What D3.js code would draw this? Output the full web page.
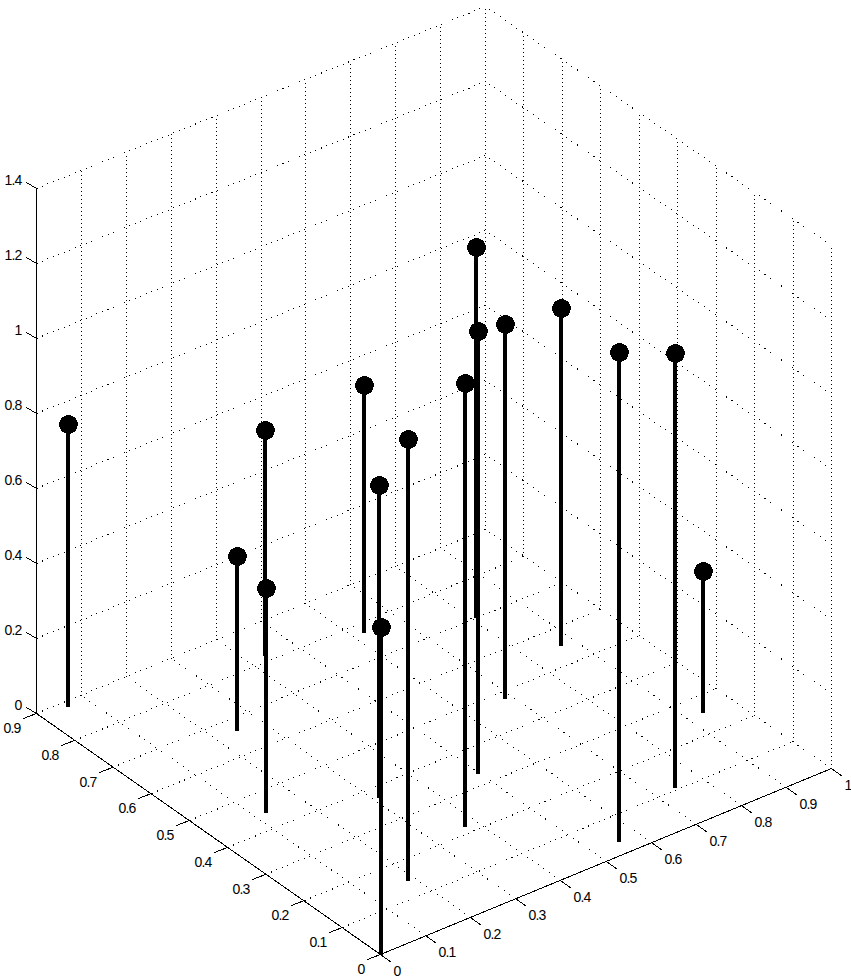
<!DOCTYPE html>
<html>
<head>
<meta charset="utf-8">
<script src="https://cdn.jsdelivr.net/npm/d3@7"></script>
<style>
  html, body { margin: 0; padding: 0; background: #fff; }
  text { font-family: "Liberation Sans", Arial, sans-serif; font-size: 14px; letter-spacing: -0.8px; fill: #000; }
</style>
</head>
<body>
<div id="chart"></div>
<script>
// stem data
const xValues = [0.057, 0.246, 0.436, 0.122, 0.621, 0.311, 0.000, 0.185, 0.372, 0.808, 0.497, 0.685, 0.870, 0.557, 0.744, 0.933];
const yValues = [0.886, 0.667, 0.816, 0.445, 0.774, 0.371, 0.000, 0.148, 0.220, 0.701, 0.331, 0.482, 0.553, 0.035, 0.108, 0.258];
const zValues = [0.752, 0.464, 0.601, 0.597, 0.661, 0.833, 0.872, 1.177, 1.183, 0.990, 1.181, 1.000, 0.902, 1.307, 1.160, 0.377];

const xTicks = [0, 0.1, 0.2, 0.3, 0.4, 0.5, 0.6, 0.7, 0.8, 0.9, 1];
const yTicks = [0, 0.1, 0.2, 0.3, 0.4, 0.5, 0.6, 0.7, 0.8, 0.9];
const zTicks = [0, 0.2, 0.4, 0.6, 0.8, 1, 1.2, 1.4];

const width = 851;
const height = 979;

const xMax = 1;
const yMax = 0.9;
const zMax = 1.4;

// view projection: each data axis adds its own screen offset
const xToSx = d3.scaleLinear().domain([0, xMax]).range([0, 451]);
const xToSy = d3.scaleLinear().domain([0, xMax]).range([0, -186]);
const yToSx = d3.scaleLinear().domain([0, yMax]).range([0, -344]);
const yToSy = d3.scaleLinear().domain([0, yMax]).range([0, -241]);
const zToSy = d3.scaleLinear().domain([0, zMax]).range([0, -525]);

// the far corner sits a little off the parallelogram, the view has slight perspective
const farSkew = (x, y) => 2 * (x / xMax) * (y / yMax);
const zShrink = x => 1 - (2 / 525) * (x / xMax);

const origin = { x: 380, y: 954 };
const px = (x, y) => Math.round(origin.x + xToSx(x) + yToSx(y) - farSkew(x, y)) + 0.5;
const py = (x, y, z) => Math.round(origin.y + xToSy(x) + yToSy(y) + farSkew(x, y) + zToSy(z) * zShrink(x)) + 0.5;

const svg = d3.select('#chart')
  .append('svg')
  .attr('width', width)
  .attr('height', height)
  .style('display', 'block');

const seg = (g, a, b) => g.append('line')
  .attr('x1', px(a[0], a[1]))
  .attr('y1', py(a[0], a[1], a[2]))
  .attr('x2', px(b[0], b[1]))
  .attr('y2', py(b[0], b[1], b[2]));

// dotted grid on the floor and the two back walls
const grid = svg.append('g')
  .attr('stroke', '#000')
  .attr('stroke-width', 1)
  .attr('shape-rendering', 'crispEdges');

const vertDots = '1 3';
const xDots = '1 4.9';
const yDots = '1 5.7';

xTicks.forEach((t) => {
  if (t > 0) seg(grid, [t, 0, 0], [t, yMax, 0]).attr('stroke-dasharray', yDots);
  seg(grid, [t, yMax, 0], [t, yMax, zMax]).attr('stroke-dasharray', vertDots);
});
yTicks.forEach((t) => {
  if (t > 0) seg(grid, [0, t, 0], [xMax, t, 0]).attr('stroke-dasharray', xDots);
  seg(grid, [xMax, t, 0], [xMax, t, zMax]).attr('stroke-dasharray', vertDots);
});
zTicks.forEach((t) => {
  seg(grid, [0, yMax, t], [xMax, yMax, t]).attr('stroke-dasharray', xDots);
  seg(grid, [xMax, 0, t], [xMax, yMax, t]).attr('stroke-dasharray', yDots);
});

// solid axes
const axes = svg.append('g')
  .attr('stroke', '#000')
  .attr('stroke-width', 1)
  .attr('shape-rendering', 'crispEdges');

seg(axes, [0, 0, 0], [xMax, 0, 0]);
seg(axes, [0, 0, 0], [0, yMax, 0]);
seg(axes, [0, yMax, 0], [0, yMax, zMax]);

const tickLine = (sx, sy, dx, dy) => axes.append('line')
  .attr('x1', sx).attr('y1', sy)
  .attr('x2', sx + dx).attr('y2', sy + dy);

const labels = svg.append('g');

xTicks.forEach((t) => {
  const sx = px(t, 0);
  const sy = py(t, 0, 0);
  tickLine(sx, sy, 11, 8);
  labels.append('text')
    .attr('x', sx + 13).attr('y', sy + 21.5)
    .text(t);
});

yTicks.forEach((t) => {
  const sx = px(0, t);
  const sy = py(0, t, 0);
  tickLine(sx, sy, -13, 5);
  labels.append('text')
    .attr('x', sx - 16).attr('y', sy + 19)
    .attr('text-anchor', 'end')
    .text(t);
});

zTicks.forEach((t) => {
  const sx = px(0, yMax);
  const sy = py(0, yMax, t);
  tickLine(sx, sy, -10, -6);
  labels.append('text')
    .attr('x', sx - 15).attr('y', sy - 4)
    .attr('text-anchor', 'end')
    .text(t);
});

// stems with round heads
const stems = svg.append('g');
const stemData = d3.range(zValues.length).map(i => ({ x: xValues[i], y: yValues[i], z: zValues[i] }));

stems.selectAll('line')
  .data(stemData)
  .enter()
  .append('line')
  .attr('x1', d => px(d.x, d.y) + 0.5)
  .attr('x2', d => px(d.x, d.y) + 0.5)
  .attr('y1', d => py(d.x, d.y, 0))
  .attr('y2', d => py(d.x, d.y, d.z))
  .attr('stroke', '#000')
  .attr('stroke-width', 4)
  .attr('shape-rendering', 'crispEdges');

stems.selectAll('circle')
  .data(stemData)
  .enter()
  .append('circle')
  .attr('cx', d => px(d.x, d.y) + 1)
  .attr('cy', d => py(d.x, d.y, d.z))
  .attr('r', 9.4)
  .attr('fill', '#000')
  .attr('shape-rendering', 'crispEdges');
</script>
</body>
</html>
